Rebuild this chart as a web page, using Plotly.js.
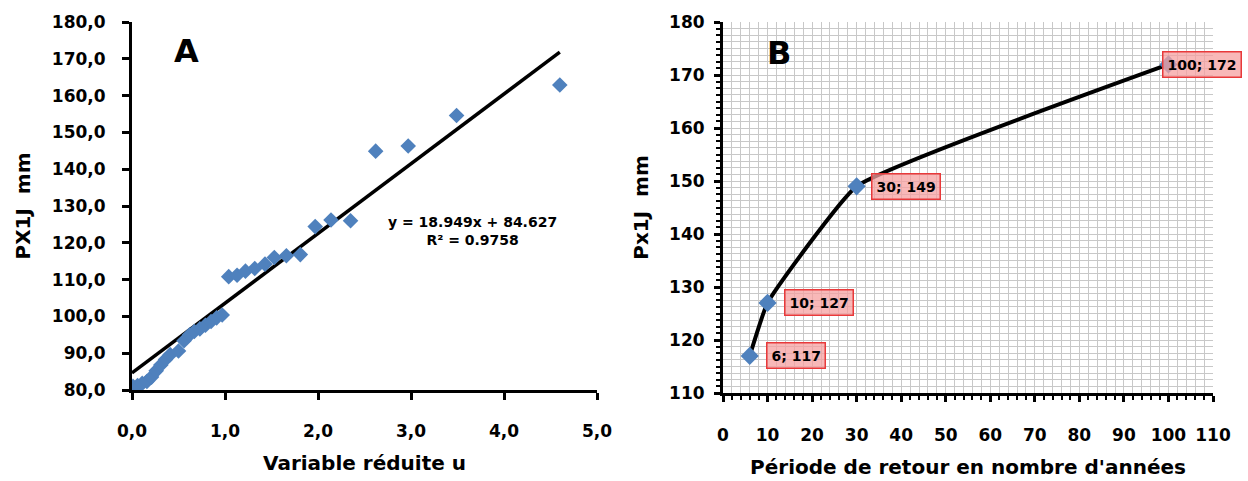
<!DOCTYPE html>
<html>
<head>
<meta charset="utf-8">
<script src="https://cdn.plot.ly/plotly-3.0.1.min.js"></script>
<style>html,body{margin:0;padding:0;background:#fff;}#chart{width:1248px;height:481px;}</style>
</head>
<body>
<div id="chart"></div>
<script>
// Panel A: Gumbel adjustment (variable réduite u vs PX1J)
const uValues = [0.01, 0.06, 0.11, 0.16, 0.21, 0.26, 0.31, 0.36, 0.41, 0.50, 0.56, 0.62, 0.67, 0.73, 0.79, 0.85, 0.91, 0.97,
  1.04, 1.13, 1.22, 1.32, 1.43, 1.53, 1.66, 1.81, 1.97, 2.14, 2.35, 2.62, 2.97, 3.49, 4.60];
const px1jValues = [81.0, 81.2, 81.8, 82.3, 83.5, 85.2, 86.8, 88.3, 89.6, 90.6, 93.4, 95.0, 95.9, 96.6, 97.6, 98.6, 99.6, 100.4,
  110.8, 111.2, 112.3, 113.0, 114.2, 116.0, 116.5, 116.8, 124.4, 126.2, 126.0, 144.9, 146.3, 154.6, 162.9];
const trendSlope = 18.949;
const trendIntercept = 84.627;
const trendR2 = 0.9758;
const trendX = [0, 4.6];

// Panel B: return period vs PX1J
const periods = [6, 10, 30, 100];
const px1jPeriods = [117, 127, 149, 172];

const FONT = 'DejaVu Sans, Verdana, sans-serif';
const blue = '#4f81bd';

const traces = [
  {x: trendX, y: trendX.map(v => trendSlope * v + trendIntercept), xaxis: 'x', yaxis: 'y',
   mode: 'lines', line: {color: '#000', width: 3.5}, hoverinfo: 'skip'},
  {x: uValues, y: px1jValues, xaxis: 'x', yaxis: 'y', mode: 'markers',
   marker: {symbol: 'diamond', size: 12, color: blue}},
  {x: periods, y: px1jPeriods, xaxis: 'x2', yaxis: 'y2', mode: 'lines',
   line: {color: '#000', width: 4, shape: 'spline', smoothing: 0.35}},
  {x: periods, y: px1jPeriods, xaxis: 'x2', yaxis: 'y2', mode: 'markers',
   marker: {symbol: 'diamond', size: 14, color: blue}}
];

const tickFont = {family: FONT, size: 17, color: '#000', weight: 'bold'};
const titleFont = {family: FONT, size: 20, color: '#000', weight: 'bold'};

const annotations = [
  {xref: 'x', yref: 'y', x: 0.43, y: 172, text: 'A', showarrow: false,
   font: {family: FONT, size: 32, color: '#000', weight: 'bold'}, xanchor: 'left', yanchor: 'middle'},
  {xref: 'x', yref: 'y', x: 3.66, y: 123.2, text: 'y = ' + trendSlope + 'x + ' + trendIntercept + '<br>R² = ' + trendR2,
   showarrow: false, font: {family: FONT, size: 14, color: '#000', weight: 'bold'}, align: 'center'},
  {xref: 'x2', yref: 'y2', x: 9.4, y: 174.2, text: 'B', showarrow: false,
   font: {family: FONT, size: 32, color: '#000', weight: 'bold'}, xanchor: 'left', yanchor: 'middle'}
];
const labelShift = [16, 16, 14, -6];
periods.forEach((p, i) => {
  annotations.push({
    xref: 'x2', yref: 'y2', x: p, y: px1jPeriods[i], text: p + '; ' + px1jPeriods[i],
    showarrow: false, xanchor: 'left', yanchor: 'middle', xshift: labelShift[i],
    font: {family: FONT, size: 14, color: '#000', weight: 'bold'},
    bgcolor: 'rgba(245,160,160,0.75)', bordercolor: '#e8393a', borderwidth: 1.5, borderpad: 4
  });
});

const layout = {
  width: 1248, height: 481,
  margin: {l: 0, r: 0, t: 0, b: 0},
  paper_bgcolor: '#fff', plot_bgcolor: '#fff',
  showlegend: false,
  separators: ', ',
  xaxis: {domain: [132/1248, 597/1248], anchor: 'y', range: [0, 5], dtick: 1, tickformat: '.1f',
    showgrid: false, zeroline: false, showline: true, linecolor: '#000', linewidth: 3,
    ticks: 'outside', ticklen: 7, tickwidth: 3, tickcolor: '#000', tickfont: tickFont, ticklabelstandoff: 17,
    title: {text: 'Variable réduite u', font: titleFont, standoff: 16}},
  yaxis: {domain: [1 - 390/481, 1 - 22/481], anchor: 'x', range: [80, 180], dtick: 10, tickformat: '.1f',
    showgrid: false, zeroline: false, showline: true, linecolor: '#000', linewidth: 3,
    ticks: 'outside', ticklen: 7, tickwidth: 3, tickcolor: '#000', tickfont: tickFont, ticklabelstandoff: 13,
    title: {text: 'PX1J  mm', font: titleFont, standoff: 16}},
  xaxis2: {domain: [723/1248, 1213/1248], anchor: 'y2', range: [0, 110], dtick: 10,
    showgrid: true, gridcolor: '#c8c8c8', gridwidth: 1, zeroline: false, showline: true, linecolor: '#000', linewidth: 3,
    ticks: 'outside', ticklen: 6, tickwidth: 3, tickcolor: '#000', tickfont: tickFont, ticklabelstandoff: 19,
    minor: {dtick: 2, showgrid: true, gridcolor: '#c8c8c8', gridwidth: 1, ticks: 'outside', ticklen: 4, tickwidth: 2, tickcolor: '#000'},
    title: {text: "Période de retour en nombre d'années", font: titleFont, standoff: 16}},
  yaxis2: {domain: [1 - 393/481, 1 - 22/481], anchor: 'x2', range: [110, 180], dtick: 10,
    showgrid: true, gridcolor: '#c8c8c8', gridwidth: 1, zeroline: false, showline: true, linecolor: '#000', linewidth: 3,
    ticks: 'outside', ticklen: 6, tickwidth: 3, tickcolor: '#000', tickfont: tickFont, ticklabelstandoff: 6,
    minor: {dtick: 1.25, showgrid: true, gridcolor: '#c8c8c8', gridwidth: 1, ticks: 'outside', ticklen: 4, tickwidth: 2, tickcolor: '#000'},
    title: {text: 'Px1J  mm', font: titleFont, standoff: 16}},
  annotations: annotations
};

Plotly.newPlot('chart', traces, layout, {staticPlot: true, displayModeBar: false});
</script>
</body>
</html>
